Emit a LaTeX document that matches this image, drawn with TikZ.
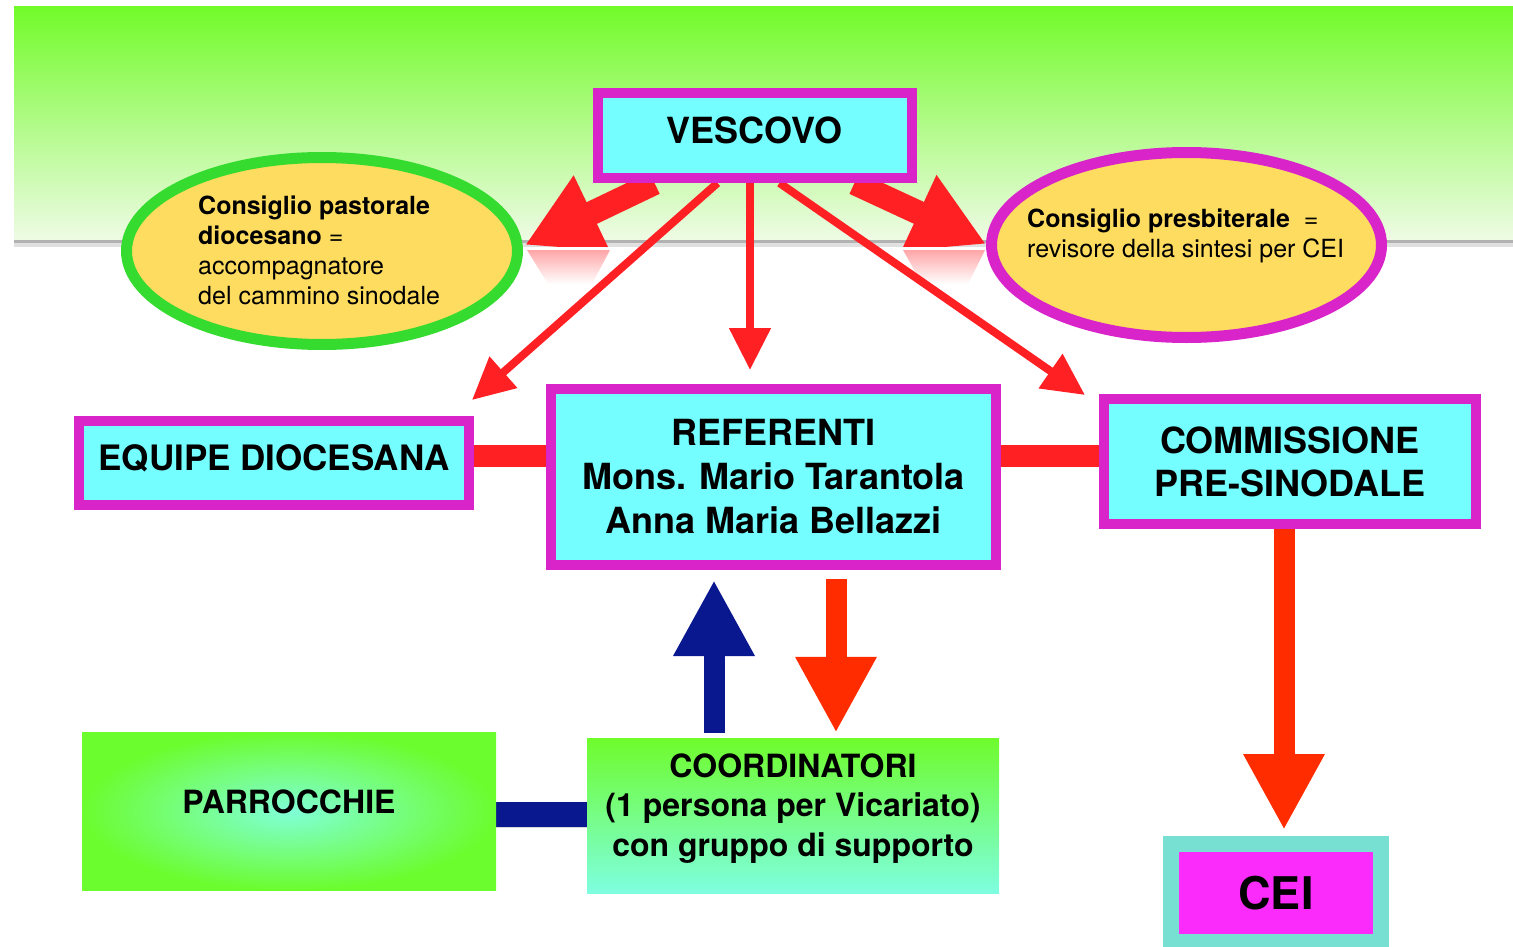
\documentclass[tikz,border=0pt]{standalone}
\usepackage{fontspec}
\setmainfont{TeX Gyre Heros}
\usetikzlibrary{arrows.meta,calc,shapes.geometric}
\definecolor{bandtop}{HTML}{72FB2A}
\definecolor{bandbot}{HTML}{EEFBE4}
\definecolor{magB}{HTML}{D824C8}
\definecolor{cyanF}{HTML}{74FEFF}
\definecolor{yelF}{HTML}{FDDC60}
\definecolor{grnB}{HTML}{35DB2F}
\definecolor{redA}{HTML}{FF2024}
\definecolor{redO}{HTML}{FF2C00}
\definecolor{navyB}{HTML}{0A1890}
\definecolor{parIn}{HTML}{80FFD8}
\definecolor{parOut}{HTML}{6CFD2E}
\definecolor{coTop}{HTML}{6FFC2C}
\definecolor{coBot}{HTML}{7EFEE0}
\definecolor{ceiOut}{HTML}{78DFD3}
\definecolor{ceiIn}{HTML}{FB2BFB}
\pgfdeclarelayer{bg}
\pgfsetlayers{bg,main}
\begin{document}
\begin{tikzpicture}[x=1pt,y=-1pt,
  boxnode/.style={draw=magB, fill=cyanF, line width=10pt, inner sep=0pt, align=center,
    font=\bfseries\fontsize{36}{44}\selectfont},
  ellnode/.style={ellipse, fill=yelF, line width=11pt, inner sep=0pt},
  elltext/.style={anchor=west, align=left, inner sep=0pt, font=\fontsize{25}{30}\selectfont},
  greenbox/.style={inner sep=0pt, align=center, font=\bfseries\fontsize{32}{39.5}\selectfont},
  thickarrow/.style={draw=redA, line width=24pt, -{Triangle[length=74pt,width=78pt]}},
  thinarrow/.style={draw=redA, line width=8pt, -{Triangle[length=42pt,width=40pt]}},
  downarrow/.style={draw=redO, line width=21pt, -{Triangle[length=76pt,width=76pt]}},
  uparrow/.style={draw=navyB, line width=21pt, -{Triangle[length=76pt,width=76pt]}},
  link/.style={draw=redA, line width=22pt},
  bluelink/.style={draw=navyB, line width=25pt},
  reflect/.style={top color=redA!40, bottom color=white}]
\useasboundingbox (0,0) rectangle (1513,947);

% nodes
\node[boxnode, minimum width=314pt, minimum height=85pt, text depth=11pt] (vesc) at (754.5,135.5) {VESCOVO};
\node[ellnode, draw=grnB, minimum width=391pt, minimum height=187pt] (cpd) at (322,251) {};
\node[ellnode, draw=magB, minimum width=390pt, minimum height=185pt] (cpr) at (1186.5,245) {};
\node[elltext] (cpdtext) at (198,250) {\textbf{Consiglio pastorale}\\\textbf{diocesano} =\\accompagnatore\\del cammino sinodale};
\node[elltext] (cprtext) at (1027,236) {\textbf{Consiglio presbiterale}\ \ =\\revisore della sintesi per CEI};
\node[boxnode, minimum width=390pt, minimum height=84pt, font=\bfseries\fontsize{35}{42}\selectfont, text depth=10pt] (equipe) at (274,463) {EQUIPE DIOCESANA};
\node[boxnode, minimum width=445pt, minimum height=176pt] (ref) at (773.5,477) {REFERENTI\\Mons. Mario Tarantola\\Anna Maria Bellazzi};
\node[boxnode, minimum width=372pt, minimum height=125pt, font=\bfseries\fontsize{36}{43}\selectfont] (comm) at (1290,461.5) {COMMISSIONE\\PRE-SINODALE};
\node[greenbox, inner color=parIn, outer color=parOut, minimum width=414pt, minimum height=158pt, text depth=18pt] (par) at (289,811) {PARROCCHIE};
\node[greenbox, top color=coTop, bottom color=coBot, minimum width=412pt, minimum height=155pt, text depth=21pt] (coord) at (793,815.5) {COORDINATORI\\(1 persona per Vicariato)\\con gruppo di supporto};
\node[draw=ceiOut, fill=ceiIn, line width=16pt, inner sep=0pt, minimum width=210pt, minimum height=98pt,
  font=\bfseries\fontsize{45}{50}\selectfont] (cei) at (1276,893) {CEI};

\begin{pgfonlayer}{bg}
  % top band
  \fill[black!12] (14,238) rectangle (1513,247);
  \fill[black!30] (14,238) rectangle (1513,243);
  \shade[top color=bandtop, bottom color=bandbot] (14,7) rectangle (1513,239);
  % reflections of the big arrow heads
  \shade[reflect] (527,250) -- (610,250) -- (592,284) -- (548,284) -- cycle;
  \shade[reflect] (903,250) -- (985,250) -- (968,284) -- (922,284) -- cycle;
  % arrows from VESCOVO (big heads cut at the band's edge)
  \begin{scope}
    \clip (0,0) rectangle (1513,246);
    \draw[thickarrow] ($(vesc.south)+(-100,0)$) -- ($(cpd.east)+(2,-6)$);
    \draw[thickarrow] ($(vesc.south)+(100,0)$) -- ($(cpr.west)+(0,-1)$);
  \end{scope}
  \draw[thinarrow] ($(vesc.south)+(-37,0)$) -- ($(equipe.north east)+(-2,-16)$);
  \draw[thinarrow] ($(vesc.south)+(-4.5,0)$) -- ($(ref.north)+(-23.5,-14)$);
  \draw[thinarrow] ($(vesc.south)+(25,0)$) -- ($(comm.north west)+(-14,1)$);
  % links
  \draw[link] ($(equipe.east)+(-2,-7)$) -- ($(ref.west)+(2,-21)$);
  \draw[link] ($(ref.east)+(-2,-21)$) -- ($(comm.west)+(2,-5.5)$);
  \fill[black!15] ($(par.east)+(0,16)$) rectangle ($(coord.west)+(0,12)$);
  \draw[bluelink] ($(par.east)+(-2,3)$) -- ($(coord.west)+(2,-1.5)$);
  % arrows between REFERENTI and COORDINATORI
  \draw[uparrow] ($(coord.north)+(-79,-5)$) -- ($(ref.south)+(-59.5,10)$);
  \draw[downarrow] ($(ref.south)+(62.5,9)$) -- ($(coord.north)+(43,-5)$);
  % arrow to CEI
  \draw[downarrow] ($(comm.south)+(-6,0)$) -- ($(cei.north)+(8,-6)$);
\end{pgfonlayer}
\end{tikzpicture}
\end{document}
